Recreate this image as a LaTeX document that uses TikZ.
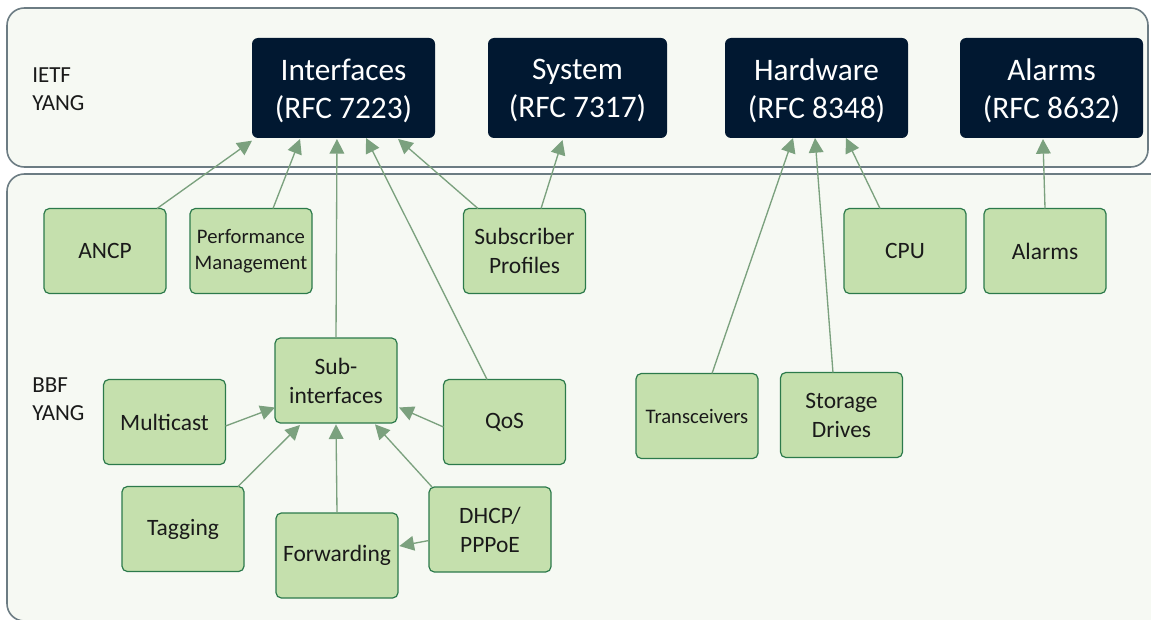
\documentclass[tikz,border=0pt]{standalone}
\usepackage{fontspec}
\setmainfont{Carlito}
\usetikzlibrary{arrows.meta}
\definecolor{navy}{HTML}{011831}
\definecolor{gfill}{HTML}{C5E0AD}
\definecolor{gline}{HTML}{2C7A4B}
\definecolor{arrc}{HTML}{7BA17E}
\definecolor{pfill}{HTML}{F6F9F3}
\definecolor{pline}{HTML}{6C7C83}
\definecolor{txt}{HTML}{1A1A1A}
\tikzset{
  panel/.style={draw=pline, line width=1.2pt, fill=pfill, rounded corners=13pt},
  darkbox/.style={fill=navy, rounded corners=4.5pt, minimum width=137.25pt, minimum height=75pt,
     outer sep=0pt, inner sep=0pt},
  darktext/.style={text=white, align=center, inner sep=0pt,
     font=\fontsize{23.5}{28.5}\selectfont},
  gbox/.style={fill=gfill, draw=gline, line width=0.9pt, rounded corners=4pt,
     minimum width=91.5pt, minimum height=63.75pt, outer sep=0pt, inner sep=0pt,
     text=txt, align=center, font=\fontsize{17.6}{21.75}\selectfont},
  gsmall/.style={font=\fontsize{15.5}{19.5}\selectfont},
  lbl/.style={anchor=west, align=left, text=txt, inner sep=0pt,
     font=\fontsize{17.25}{21}\selectfont},
  arr/.style={draw=arrc, line width=1pt, -{Triangle[length=11pt,width=11pt]}, color=arrc},
}
\begin{document}
\begin{tikzpicture}[x=0.75pt,y=-0.75pt]
\useasboundingbox (0,0) rectangle (1151,620);
\fill[white] (0,0) rectangle (1151,620);
% panels
\draw[panel] (7,8) rectangle (1148,167);
\draw[panel] (7,174) rectangle (1170,621);
% panel labels
\node[lbl] (ietf) at (32,89.5) {IETF\\YANG};
\node[lbl] (bbf) at (32,399.5) {BBF\\YANG};
% IETF modules
\node[darkbox] (intf) at (343.5,88) {};
\node[darkbox, minimum width=134.25pt] (sys) at (577.5,88) {};
\node[darkbox] (hw) at (816.5,88) {};
\node[darkbox] (alm) at (1051.5,88) {};
\node[darktext] (intft) at (343.5,90.5) {Interfaces\\(RFC 7223)};
\node[darktext] (syst) at (577.5,90.5) {System\\(RFC 7317)};
\node[darktext] (hwt) at (816.5,90.5) {Hardware\\(RFC 8348)};
\node[darktext] (almt) at (1051.5,90.5) {Alarms\\(RFC 8632)};
% BBF modules
\node[gbox] (ancp) at (105,251) {ANCP};
\node[gbox, gsmall] (pm) at (251,251) {Performance\\Management};
\node[gbox] (sp) at (524.5,251) {Subscriber\\Profiles};
\node[gbox] (cpu) at (905,251) {CPU};
\node[gbox] (alg) at (1045,251) {Alarms};
\node[gbox] (sub) at (336,380.5) {Sub-\\interfaces};
\node[gbox] (mc) at (164.5,422) {Multicast};
\node[gbox] (qos) at (504.5,422) {QoS};
\node[gbox] (tag) at (183,529) {Tagging};
\node[gbox] (fwd) at (337,555.5) {Forwarding};
\node[gbox] (dhcp) at (490,529.5) {DHCP/\\PPPoE};
\node[gbox, gsmall] (trx) at (697,416) {Transceivers};
\node[gbox] (sto) at (841.5,415) {Storage\\Drives};
% connectors to IETF
\draw[arr] ([xshift=39pt]ancp.north) -- ([yshift=-2pt]intf.south west);
\draw[arr] ([xshift=16.5pt]pm.north) -- ([xshift=-32.6pt,yshift=-0.75pt]intf.south);
\draw[arr] (sub.north) -- ([xshift=-4.9pt,yshift=-0.75pt]intf.south);
\draw[arr] ([xshift=-13.1pt]qos.north) -- ([xshift=16.9pt]intf.south);
\draw[arr] ([xshift=-34.9pt]sp.north) -- ([xshift=40.9pt,yshift=-0.75pt]intf.south);
\draw[arr] ([xshift=12.4pt]sp.north) -- ([xshift=-11.25pt,yshift=-1.5pt]sys.south);
\draw[arr] ([xshift=11.25pt]trx.north) -- ([xshift=-17.6pt]hw.south);
\draw[arr] ([xshift=-6.4pt]sto.north) -- ([xshift=-1.1pt]hw.south);
\draw[arr] ([xshift=-18.75pt]cpu.north) -- ([xshift=22.1pt]hw.south);
\draw[arr] (alg.north) -- ([xshift=-6.4pt,yshift=-0.75pt]alm.south);
% connectors to Sub-interfaces
\draw[arr] ([yshift=-3pt]mc.east) -- ([yshift=-20.25pt]sub.west);
\draw[arr] ([xshift=41.25pt]tag.north) -- ([xshift=-27pt,yshift=-1.5pt]sub.south);
\draw[arr] (fwd.north) -- ([yshift=-1pt]sub.south);
\draw[arr] ([xshift=-43.5pt]dhcp.north) -- ([xshift=29.25pt,yshift=-1pt]sub.south);
\draw[arr] ([yshift=-3.75pt]qos.west) -- ([xshift=1.5pt,yshift=-20.25pt]sub.east);
\draw[arr] ([yshift=-8.25pt]dhcp.west) -- ([xshift=1pt,yshift=7.1pt]fwd.east);
\end{tikzpicture}
\end{document}
